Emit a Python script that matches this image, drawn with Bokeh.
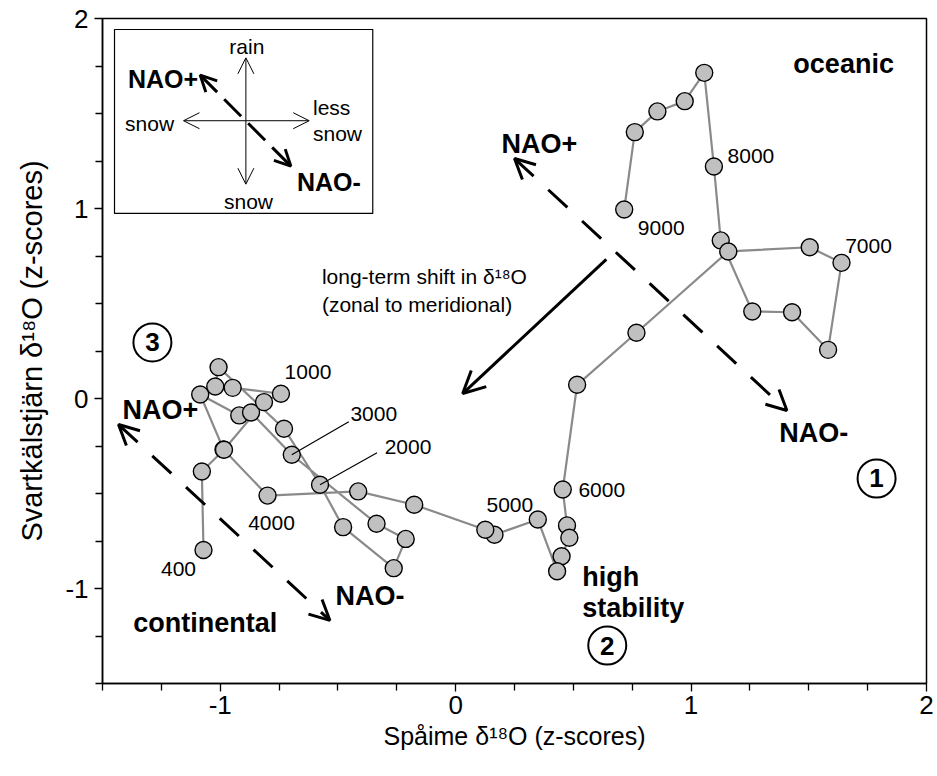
from bokeh.plotting import figure
from bokeh.models import Range1d, FixedTicker, Arrow, OpenHead
from bokeh.embed import file_html
from bokeh.resources import INLINE
from bokeh.core.properties import value

FONT = "Liberation Sans"

# Spåime (x) and Svartkälstjärn (y) delta-18O z-scores, oldest sample first
spaime_z = [0.716, 0.761, 0.857, 0.973, 1.056, 1.097, 1.126, 1.260, 1.429, 1.582,
            1.639, 1.504, 1.158, 0.768, 0.516, 0.455, 0.473, 0.483, 0.450, 0.431,
            0.349, 0.165, 0.126, -0.176, -0.414, -0.799, -0.986, -1.085, -0.919, -0.869,
            -0.696, -0.336, -0.212, -0.263, -0.478, -0.576, -0.729, -1.007, -1.021, -0.947,
            -0.742, -0.814, -0.984, -1.078, -1.071]
svartk_z = [0.995, 1.402, 1.511, 1.565, 1.714, 1.221, 0.832, 0.458, 0.454, 0.256,
            0.714, 0.796, 0.774, 0.346, 0.072, -0.479, -0.668, -0.733, -0.830, -0.909,
            -0.637, -0.717, -0.691, -0.559, -0.489, -0.511, -0.268, 0.021, -0.089, -0.074,
            -0.296, -0.659, -0.739, -0.893, -0.677, -0.454, -0.159, 0.165, 0.063, 0.056,
            0.025, -0.019, -0.270, -0.384, -0.797]

# Age labels (yr BP) and the sample each one marks
age_labels = ["9000", "8000", "7000", "6000", "5000", "4000", "3000", "2000", "1000", "400"]
age_sample = [0, 5, 10, 15, 20, 25, 30, 35, 40, 44]

# axis ticks
major_ticks = [-1, 0, 1, 2]
major_text = ["-1", "0", "1", "2"]
minor_ticks = [-1.5, -1.25, -0.75, -0.5, -0.25, 0.25, 0.5, 0.75, 1.25, 1.5, 1.75]

# frame geometry
W, H = 937, 776
LEFT, RIGHT, TOP, BOTTOM = 102, 11, 18, 93
FW, FH = W - LEFT - RIGHT, H - TOP - BOTTOM
XMIN, XMAX, YMIN, YMAX = -1.5, 2.0, -1.5, 2.0
UX = (XMAX - XMIN) / FW   # data units per screen pixel
UY = (YMAX - YMIN) / FH

p = figure(width=W, height=H, output_backend="svg", toolbar_location=None,
           x_range=Range1d(XMIN, XMAX), y_range=Range1d(YMIN, YMAX),
           min_border_left=LEFT, min_border_right=RIGHT,
           min_border_top=TOP, min_border_bottom=BOTTOM)
p.background_fill_color = "white"
p.border_fill_color = "white"
p.outline_line_color = "black"
p.outline_line_width = 1.5
p.xgrid.visible = False
p.ygrid.visible = False

for ax in (p.xaxis[0], p.yaxis[0]):
    ax.ticker = FixedTicker(ticks=major_ticks, minor_ticks=minor_ticks)
    ax.major_label_overrides = {t: s for t, s in zip(major_ticks, major_text)}
    ax.axis_line_color = "black"
    ax.axis_line_width = 1.5
    ax.major_tick_line_width = 1.3
    ax.minor_tick_line_width = 1.3
    ax.major_tick_in = 0
    ax.major_tick_out = 8
    ax.minor_tick_in = 0
    ax.minor_tick_out = 7
    ax.major_label_text_font = FONT
    ax.major_label_text_font_size = "26px"
    ax.major_label_text_color = "black"
    ax.axis_label_text_font = FONT
    ax.axis_label_text_font_style = "normal"
    ax.axis_label_text_color = "black"

p.xaxis.axis_label = "Spåime δ¹⁸O (z-scores)"
p.yaxis.axis_label = "Svartkälstjärn δ¹⁸O (z-scores)"
p.xaxis.axis_label_text_font_size = "25px"
p.yaxis.axis_label_text_font_size = "29px"
p.xaxis.axis_label_standoff = 5
p.yaxis.axis_label_standoff = 14
p.xaxis.major_label_standoff = 4
p.yaxis.major_label_standoff = 6


def txt(x, y, s, size="21px", bold=False, align="center"):
    p.text(x=[x], y=[y], text=[s], text_font=value(FONT), text_font_size=size,
           text_font_style="bold" if bold else "normal", text_color="black",
           text_align=align, text_baseline="middle")


# inset legend box
p.quad(left=[-1.449], right=[-0.352], top=[1.942], bottom=[0.974],
       fill_color="white", line_color="black", line_width=1.2)

cx, cy = -0.891, 1.462
for ex, ey in [(cx, 1.793), (cx, 1.128), (-1.156, cy), (-0.622, cy)]:
    p.add_layout(Arrow(end=OpenHead(size=16, line_width=1, line_color="black"),
                       x_start=cx, y_start=cy, x_end=ex, y_end=ey,
                       line_width=1, line_color="black"))
p.add_layout(Arrow(start=OpenHead(size=16, line_width=3, line_color="black"),
                   end=OpenHead(size=16, line_width=3, line_color="black"),
                   x_start=-1.085, y_start=1.702, x_end=-0.700, y_end=1.223,
                   line_width=3, line_color="black", line_dash="24 10"))
txt(-0.887, 1.854, "rain")
txt(-1.300, 1.447, "snow")
txt(-0.606, 1.532, "less", align="left")
txt(-0.606, 1.395, "snow", align="left")
txt(-0.880, 1.038, "snow")
txt(-1.243, 1.684, "NAO+", size="25px", bold=True)
txt(-0.674, 1.137, "NAO-", size="25px", bold=True, align="left")

# NAO axes in the main panel
for (x0, y0, x1, y1) in [(0.25, 1.263, 1.407, -0.063), (-1.432, -0.137, -0.534, -1.168)]:
    p.add_layout(Arrow(start=OpenHead(size=20, line_width=3, line_color="black"),
                       end=OpenHead(size=20, line_width=3, line_color="black"),
                       x_start=x0, y_start=y0, x_end=x1, y_end=y1,
                       line_width=3, line_color="black", line_dash="26 20"))

# long-term shift arrow
p.add_layout(Arrow(end=OpenHead(size=22, line_width=3, line_color="black"),
                   x_start=0.640, y_start=0.732, x_end=0.030, y_end=0.026,
                   line_width=3, line_color="black"))
txt(-0.568, 0.642, "long-term shift in δ¹⁸O", align="left")
txt(-0.568, 0.495, "(zonal to meridional)", align="left")

# trajectory
p.line(spaime_z, svartk_z, line_color="#8a8a8a", line_width=2.2)
p.scatter(spaime_z, svartk_z, size=17, fill_color="#c0c0c0",
          line_color="black", line_width=1.4)

# age labels, offset in screen pixels from their samples
age_dx = [37, 37, 27, 39, -28, 4, 82, 88, 27, -25]
age_dy = [19, -11, -17, 0, -15, 27, -41, -38, -22, 19]
for lab, i, dx, dy in zip(age_labels, age_sample, age_dx, age_dy):
    txt(spaime_z[i] + dx * UX, svartk_z[i] - dy * UY, lab)

# leader lines for 3000 and 2000
for i, dx, dy in [(30, 57, -33), (35, 57, -32)]:
    p.segment(x0=[spaime_z[i]], y0=[svartk_z[i]],
              x1=[spaime_z[i] + dx * UX], y1=[svartk_z[i] - dy * UY],
              line_color="black", line_width=1.2)

# regime labels
txt(1.648, 1.758, "oceanic", size="27px", bold=True)
txt(0.356, 1.342, "NAO+", size="27px", bold=True)
txt(1.521, -0.184, "NAO-", size="27px", bold=True)
txt(-1.254, -0.063, "NAO+", size="27px", bold=True)
txt(-0.364, -1.037, "NAO-", size="27px", bold=True)
txt(-1.064, -1.184, "continental", size="27px", bold=True)
txt(0.538, -0.942, "high", size="27px", bold=True, align="left")
txt(0.538, -1.100, "stability", size="27px", bold=True, align="left")

# numbered regimes
num_x = [1.788, 0.644, -1.288]
num_y = [-0.421, -1.300, 0.295]
num_t = ["1", "2", "3"]
p.scatter(num_x, num_y, size=38, fill_color="white", line_color="black", line_width=2)
p.text(x=num_x, y=num_y, text=num_t, text_font=value(FONT), text_font_size="26px",
       text_font_style="bold", text_color="black", text_align="center",
       text_baseline="middle")

open("out.html", "w").write(file_html(p, INLINE))
